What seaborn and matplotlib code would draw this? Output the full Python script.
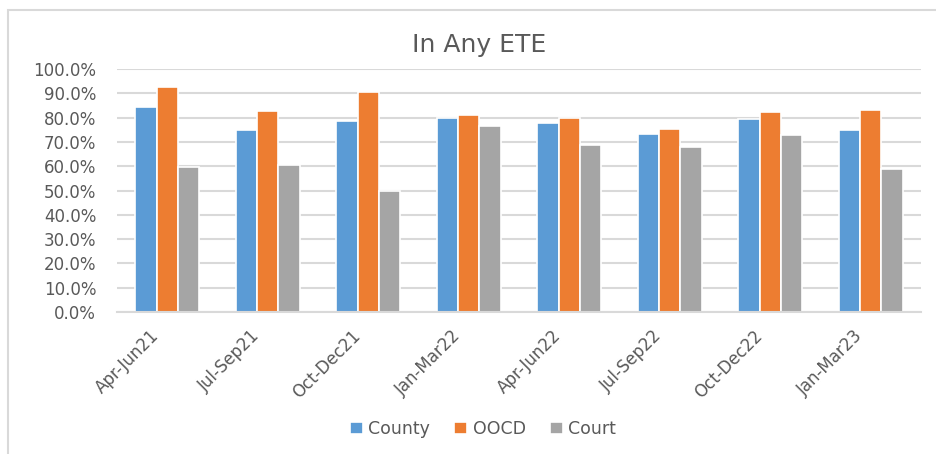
import matplotlib
matplotlib.use("Agg")
import matplotlib.pyplot as plt
import matplotlib.transforms as mtransforms
import pandas as pd
import seaborn as sns
from matplotlib.ticker import PercentFormatter

# Quarter labels and the three series (share in any ETE, %)
periods = ["Apr-Jun21", "Jul-Sep21", "Oct-Dec21", "Jan-Mar22",
           "Apr-Jun22", "Jul-Sep22", "Oct-Dec22", "Jan-Mar23"]
county = [84.4, 74.9, 78.6, 79.8, 77.9, 73.3, 79.4, 74.9]
oocd = [92.6, 82.7, 90.5, 81.1, 80.0, 75.3, 82.4, 83.1]
court = [59.8, 60.6, 49.8, 76.5, 68.7, 68.0, 72.8, 59.0]
series = ["County", "OOCD", "Court"]
colors = ["#5B9BD5", "#ED7D31", "#A5A5A5"]

# Long table for seaborn
df = pd.DataFrame({"period": periods, "County": county, "OOCD": oocd, "Court": court})
df_long = df.melt(id_vars="period", var_name="series", value_name="value")

sns.set_style("white")
plt.rcParams["font.family"] = ["DejaVu Sans"]
text_color = "#595959"
grid_color = "#D9D9D9"

fig = plt.figure(figsize=(9.36, 4.54), dpi=100)
ax = fig.add_axes([117 / 936, 1 - 312 / 454, (921 - 117) / 936, (312 - 69) / 454])

sns.barplot(
    data=df_long, x="period", y="value", hue="series",
    order=periods, hue_order=series, palette=colors, saturation=1,
    width=0.64, edgecolor="white", linewidth=1.2, ax=ax, legend=True,
)

# Axis styling
ax.set_ylim(0, 100)
ax.set_yticks(range(0, 101, 10))
ax.yaxis.set_major_formatter(PercentFormatter(decimals=1))
ax.set_xlabel("")
ax.set_ylabel("")
ax.grid(axis="y", color=grid_color, linewidth=1.5)
ax.set_axisbelow(True)
for side in ["top", "right", "left"]:
    ax.spines[side].set_visible(False)
ax.spines["bottom"].set_color(grid_color)
ax.spines["bottom"].set_linewidth(1.5)
ax.tick_params(axis="both", length=0, colors=text_color, labelsize=12)
ax.tick_params(axis="y", pad=15)

# Rotated category labels
offset = mtransforms.ScaledTranslation(-0.17, -0.1, fig.dpi_scale_trans)
for lbl in ax.get_xticklabels():
    lbl.set_rotation(45)
    lbl.set_ha("right")
    lbl.set_rotation_mode("anchor")
    lbl.set_transform(lbl.get_transform() + offset)

# Title
fig.text(479 / 936, 1 - 45 / 454, "In Any ETE", ha="center", va="center",
         fontsize=18, color=text_color)

# Legend below
handles, labels = ax.get_legend_handles_labels()
ax.get_legend().remove()
fig.legend(handles, labels, loc="center", bbox_to_anchor=(483 / 936, 1 - 429 / 454),
           ncol=3, frameon=False, fontsize=12.5, labelcolor=text_color,
           handlelength=0.75, handleheight=0.75, handletextpad=0.3, columnspacing=1.4)

# Chart area border (clipped on right and bottom like the screenshot)
fig.add_artist(plt.Rectangle((8 / 936, -0.1), 1.2, 1 - 10 / 454 + 0.1,
                             transform=fig.transFigure, fill=False,
                             edgecolor=grid_color, linewidth=1.5))

fig.savefig("out.png", dpi=100)
